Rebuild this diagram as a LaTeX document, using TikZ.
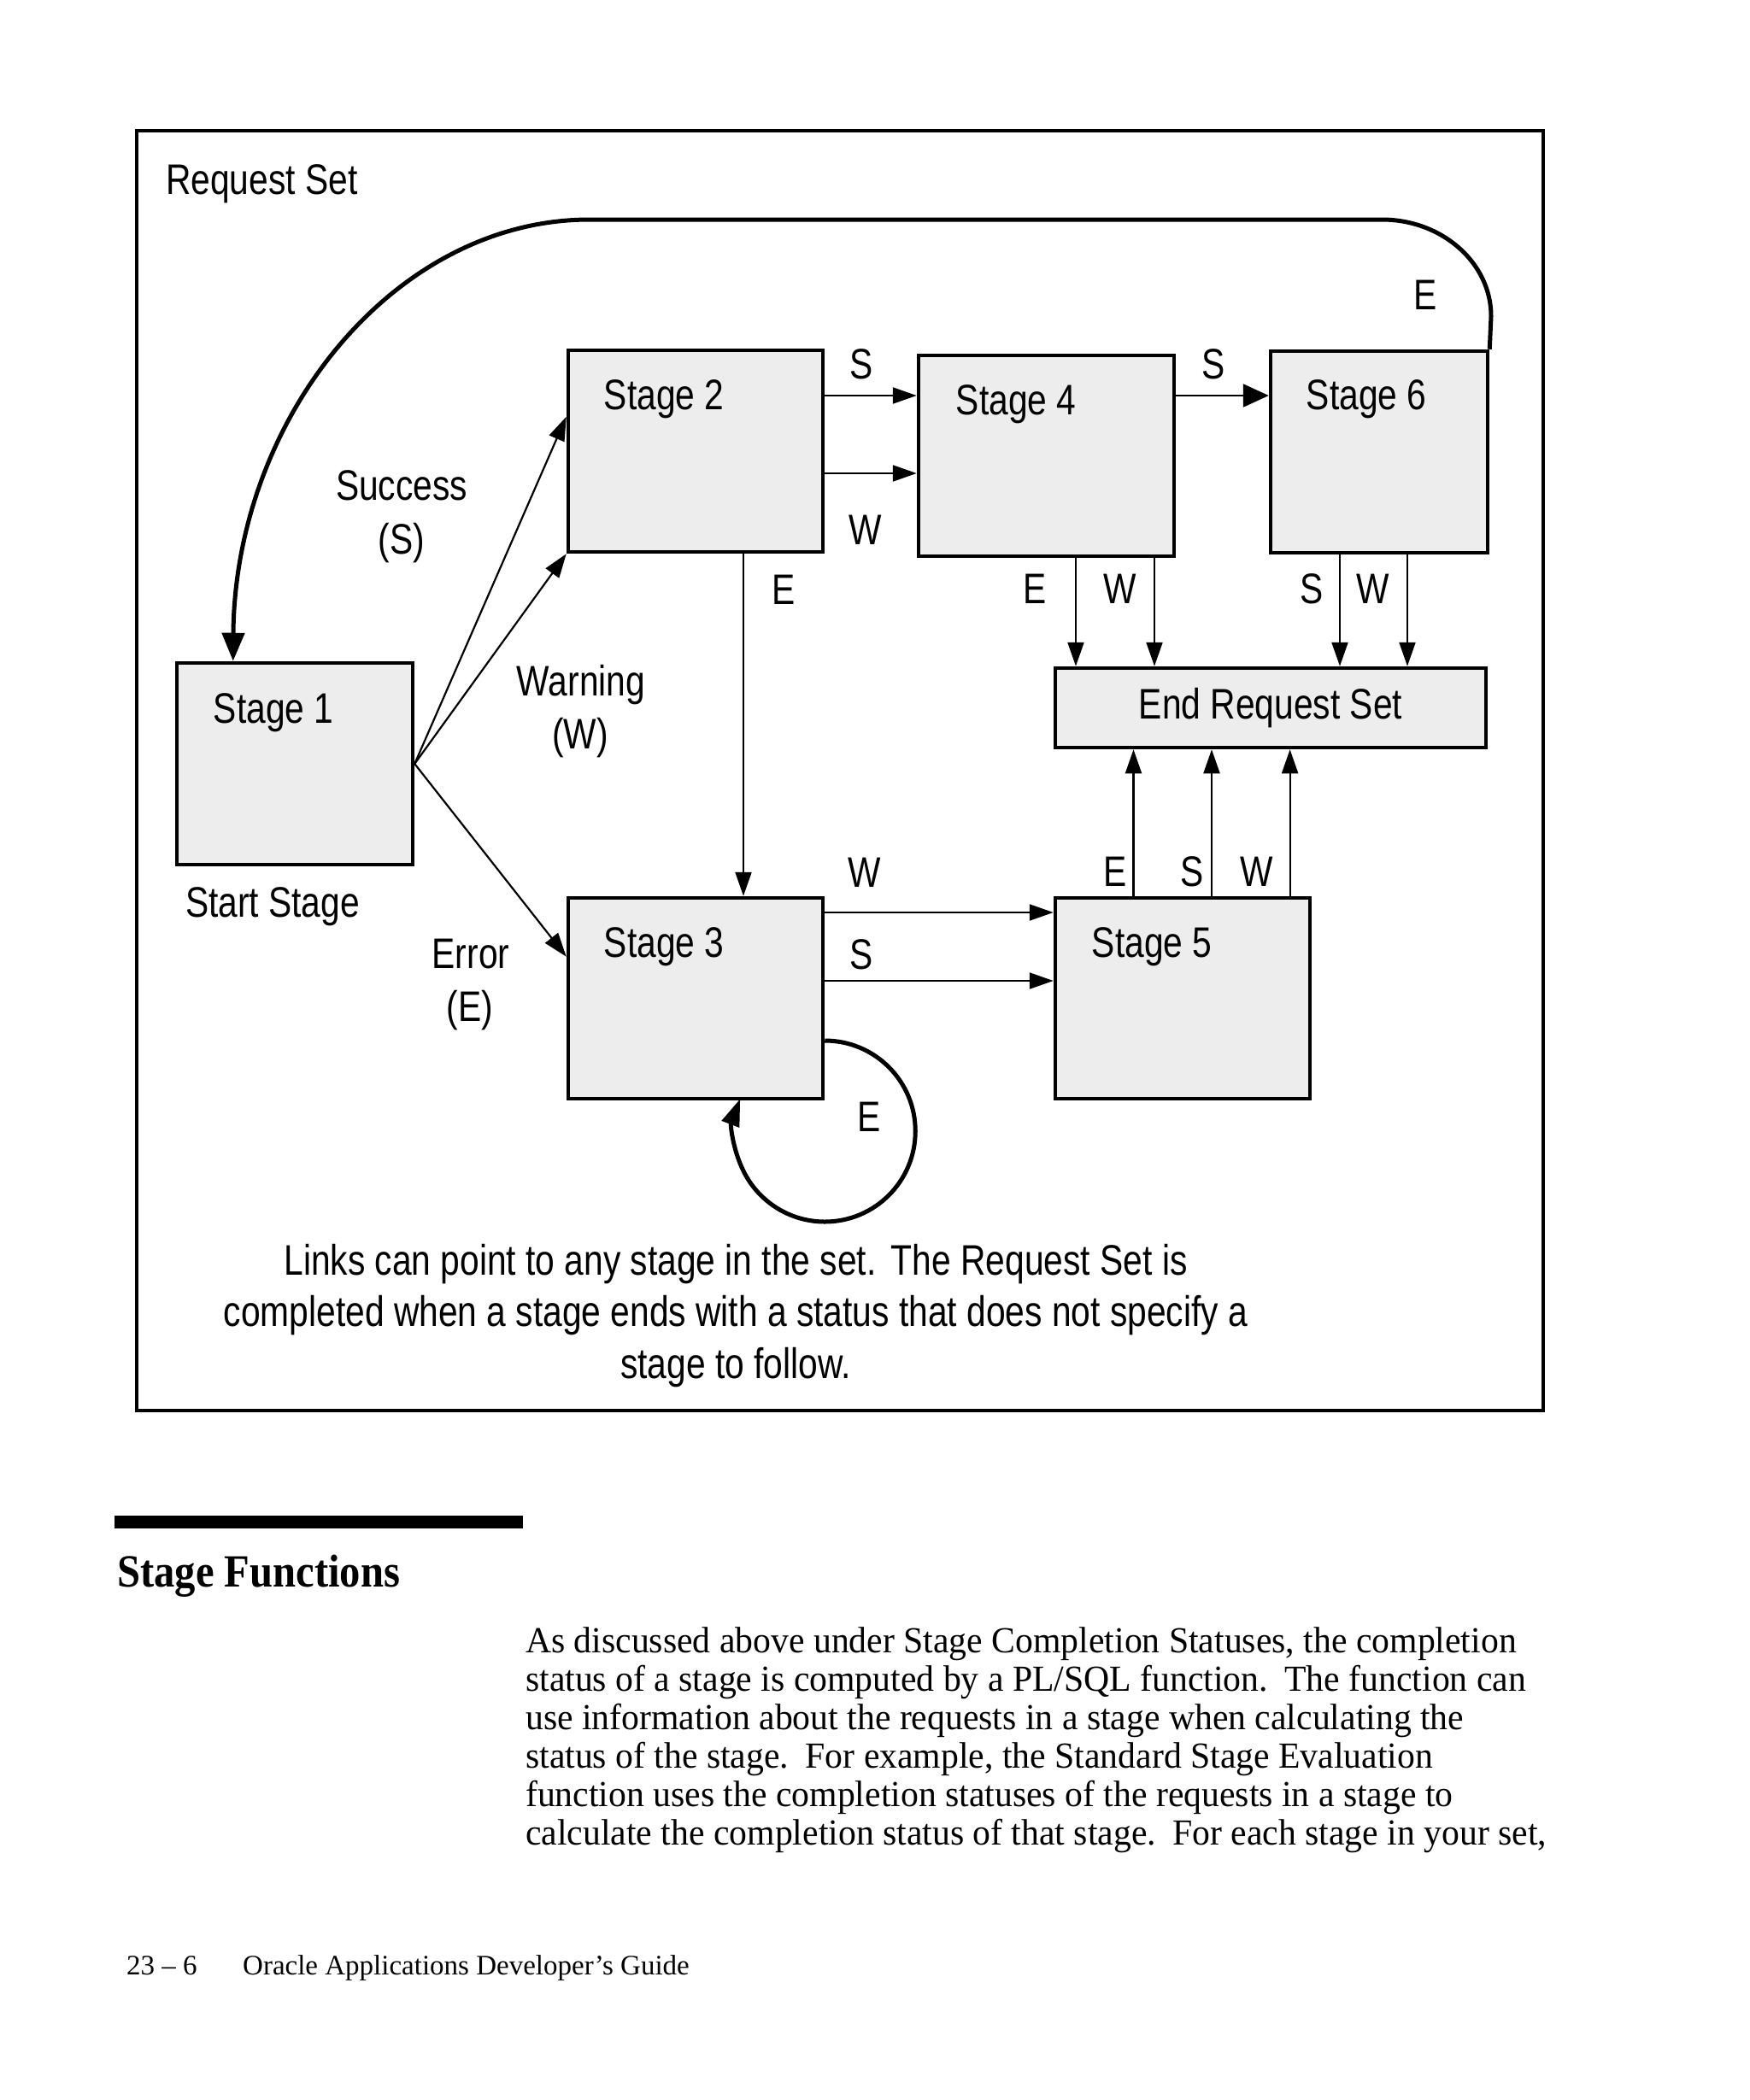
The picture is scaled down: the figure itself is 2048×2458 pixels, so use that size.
\documentclass[tikz,border=0pt]{standalone}
\usepackage{fontspec}
\usetikzlibrary{arrows.meta,calc}
\newfontfamily\diagfont[FakeStretch=0.815]{Liberation Sans}
\newfontfamily\bodyfont[FakeStretch=0.97]{Liberation Serif}
\newfontfamily\footfont{Liberation Serif}
\newfontfamily\headfont[FakeStretch=0.9]{Liberation Serif}
\begin{document}
\begin{tikzpicture}[x=1pt,y=-1pt,
  stage/.style={draw, line width=4.5pt, fill=black!7, inner sep=0pt},
  stagetext/.style={font=\diagfont\fontsize{50}{60}\selectfont, anchor=base west, inner sep=0pt},
  lbl/.style={font=\diagfont\fontsize{50}{60}\selectfont, anchor=base, inner sep=0pt},
  conn/.style={line width=2.2pt, -{Triangle[length=28pt,width=19pt]}},
  connbig/.style={line width=2.2pt, -{Triangle[length=30pt,width=27pt]}},
  thick arc/.style={line width=5pt, -{Triangle[length=33pt,width=26pt]}},
  body/.style={font=\bodyfont\fontsize{43}{45}\selectfont, anchor=base west, inner sep=0pt},
]
\useasboundingbox (0,0) rectangle (2048,2458);
\fill[white] (0,0) rectangle (2048,2458);
% frame
\draw[line width=4pt] (160,153) rectangle (1806,1651);
\node[stagetext] (title) at (194,227) {Request Set};

% stages
\node[stage, minimum width=276, minimum height=236] (s1) at (345,894) {};
\node[stage, minimum width=298, minimum height=236] (s2) at (814,528) {};
\node[stage, minimum width=298, minimum height=235] (s3) at (814,1168.5) {};
\node[stage, minimum width=299, minimum height=235] (s4) at (1224.5,533.5) {};
\node[stage, minimum width=298, minimum height=235] (s5) at (1384,1168.5) {};
\node[stage, minimum width=254, minimum height=236] (s6) at (1614,529) {};
\node[stage, minimum width=504, minimum height=93, font=\diagfont\fontsize{50}{60}\selectfont] (ers) at (1487,828.5) {End Request Set};

\node[stagetext] (t1) at ($(s1.north west)+(45,73)$) {Stage 1};
\node[stagetext] (t2) at ($(s2.north west)+(44,72)$) {Stage 2};
\node[stagetext] (t3) at ($(s3.north west)+(44,72)$) {Stage 3};
\node[stagetext] (t4) at ($(s4.north west)+(46,72)$) {Stage 4};
\node[stagetext] (t5) at ($(s5.north west)+(45,72)$) {Stage 5};
\node[stagetext] (t6) at ($(s6.north west)+(44,71)$) {Stage 6};

% Stage 1 outputs
\draw[conn] (s1.east) -- ($(s2.north west)+(0,80)$);
\draw[conn] (s1.east) -- (s2.south west);
\draw[conn] (s1.east) -- ($(s3.north west)+(0,71)$);
\node[lbl] (lsucc) at (470,585) {Success};
\node[lbl] (lsucc2) at (470,648) {(S)};
\node[lbl] (lwarn) at (680,814) {Warning};
\node[lbl] (lwarn2) at (679,876) {(W)};
\node[lbl] (lerr) at (551,1133) {Error};
\node[lbl] (lerr2) at (550,1195) {(E)};
\node[lbl] (lstart) at (319,1073) {Start Stage};

% Stage 2 outputs
\draw[conn] (s2.east |- 0,463) -- (s4.west |- 0,463);
\draw[conn] (s2.east |- 0,554) -- (s4.west |- 0,554);
\draw[conn] (s2.south -| 870,0) -- (s3.north -| 870,0);
\node[lbl] (l24s) at (1008,443) {S};
\node[lbl] (l24w) at (1013,637) {W};
\node[lbl] (l23e) at (917,707) {E};

% Stage 4 outputs
\draw[connbig] (s4.east |- 0,463) -- (s6.west |- 0,463);
\node[lbl] (l46s) at (1420,443) {S};
\draw[conn] (s4.south -| 1259,0) -- (ers.north -| 1259,0);
\draw[conn] (s4.south -| 1351,0) -- (ers.north -| 1351,0);
\node[lbl] (l4e) at (1211,706) {E};
\node[lbl] (l4w) at (1311,706) {W};

% Stage 6 outputs
\draw[conn] (s6.south -| 1568,0) -- (ers.north -| 1568,0);
\draw[conn] (s6.south -| 1647,0) -- (ers.north -| 1647,0);
\node[lbl] (l6s) at (1535,706) {S};
\node[lbl] (l6w) at (1607,706) {W};
\coordinate (c61) at (1745,370);
\coordinate (c62) at (1617,257);
\coordinate (c63) at (690,257);
\coordinate (c1top) at ($(s1.north west)+(68,0)$);
\draw[thick arc] (s6.north east) -- (c61) .. controls (1745,308) and (1688,257) .. (c62)
  -- (c63) .. controls (461,257) and (275,490) .. (c1top);
\node[lbl] (l61e) at (1668,362) {E};

% Stage 3 outputs
\draw[conn] (s3.east |- 0,1068) -- (s5.west |- 0,1068);
\draw[conn] (s3.east |- 0,1148) -- (s5.west |- 0,1148);
\node[lbl] (l35w) at (1012,1038) {W};
\node[lbl] (l35s) at (1008,1134) {S};
\draw[line width=5pt, -{Triangle[length=32pt,width=21pt]}] (s3.east |- 0,1218) arc[start angle=90, end angle=-201, radius=106pt];
\node[lbl] (l33e) at (1017,1324) {E};

% Stage 5 outputs
\draw[conn] (s5.north -| 1326.5,0) -- (ers.south -| 1326.5,0);
\draw[conn] (s5.north -| 1418,0) -- (ers.south -| 1418,0);
\draw[conn] (s5.north -| 1509.6,0) -- (ers.south -| 1509.6,0);
\node[lbl] (l5e) at (1305,1037) {E};
\node[lbl] (l5s) at (1395,1037) {S};
\node[lbl] (l5w) at (1471,1037) {W};

% note
\node[lbl] (n1) at (861,1492) {Links can point to any stage in the set.\hspace{0.35em}The Request Set is};
\node[lbl] (n2) at (861,1552) {completed when a stage ends with a status that does not specify a};
\node[lbl] (n3) at (861,1613) {stage to follow.};

% page text
\fill (134,1774) rectangle (612,1789);
\node[font=\headfont\bfseries\fontsize{54}{60}\selectfont, anchor=base west, inner sep=0pt] (head) at (137,1857) {Stage Functions};
\node[body] (b1) at (615,1934) {As discussed above under Stage Completion Statuses, the completion};
\node[body] (b2) at (615,1979) {status of a stage is computed by a PL/SQL function.\hspace{0.45em}The function can};
\node[body] (b3) at (615,2024) {use information about the requests in a stage when calculating the};
\node[body] (b4) at (615,2069) {status of the stage.\hspace{0.45em}For example, the Standard Stage Evaluation};
\node[body] (b5) at (615,2114) {function uses the completion statuses of the requests in a stage to};
\node[body] (b6) at (615,2159) {calculate the completion status of that stage.\hspace{0.45em}For each stage in your set,};
\node[font=\footfont\fontsize{33}{40}\selectfont, anchor=base west, inner sep=0pt] (pg) at (148,2311) {23 – 6};
\node[font=\footfont\fontsize{33}{40}\selectfont, anchor=base west, inner sep=0pt] (guide) at (284,2311) {Oracle Applications Developer’s Guide};
\end{tikzpicture}
\end{document}
